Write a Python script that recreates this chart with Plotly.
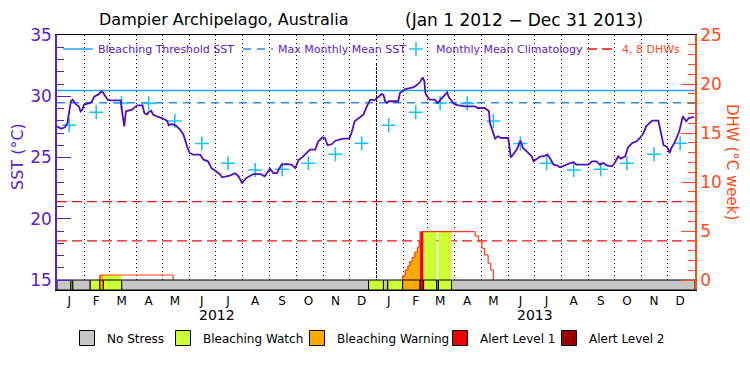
import plotly.graph_objects as go
from datetime import datetime

# ---------------- data ----------------
title_left = "Dampier Archipelago, Australia"
title_right = "(Jan 1 2012 \u2212 Dec 31 2013)"

sst_dates = [
    "2012-01-01", "2012-01-06", "2012-01-10", "2012-01-13", "2012-01-15", "2012-01-17", "2012-01-19",
    "2012-01-21", "2012-01-23", "2012-01-26", "2012-01-28", "2012-01-30", "2012-02-01", "2012-02-04",
    "2012-02-08", "2012-02-10", "2012-02-13", "2012-02-17", "2012-02-19", "2012-02-21", "2012-02-23",
    "2012-02-26", "2012-02-28", "2012-03-02", "2012-03-14", "2012-03-15", "2012-03-17", "2012-03-18",
    "2012-03-20", "2012-03-23", "2012-03-27", "2012-03-30", "2012-04-02", "2012-04-08", "2012-04-10",
    "2012-04-13", "2012-04-15", "2012-04-18", "2012-04-20", "2012-04-26", "2012-04-30", "2012-05-06",
    "2012-05-08", "2012-05-11", "2012-05-16", "2012-05-21", "2012-05-25", "2012-05-29", "2012-06-01",
    "2012-06-05", "2012-06-13", "2012-06-17", "2012-06-22", "2012-06-26", "2012-07-02", "2012-07-06",
    "2012-07-08", "2012-07-17", "2012-07-23", "2012-07-27", "2012-07-31", "2012-08-05", "2012-08-13",
    "2012-08-21", "2012-08-26", "2012-09-01", "2012-09-05", "2012-09-09", "2012-09-14", "2012-09-20",
    "2012-09-26", "2012-09-30", "2012-10-04", "2012-10-08", "2012-10-13", "2012-10-17", "2012-10-23",
    "2012-10-26", "2012-10-31", "2012-11-03", "2012-11-06", "2012-11-11", "2012-11-15", "2012-11-19",
    "2012-11-24", "2012-12-01", "2012-12-04", "2012-12-07", "2012-12-12", "2012-12-17", "2012-12-21",
    "2012-12-25", "2012-12-30", "2013-01-03", "2013-01-07", "2013-01-09", "2013-01-11", "2013-01-13",
    "2013-01-15", "2013-01-26", "2013-01-28", "2013-02-03", "2013-02-07", "2013-02-12", "2013-02-16",
    "2013-02-20", "2013-02-23", "2013-02-25", "2013-02-26", "2013-02-28", "2013-03-03", "2013-03-09",
    "2013-03-12", "2013-03-15", "2013-03-19", "2013-03-23", "2013-03-25", "2013-03-28", "2013-03-31",
    "2013-04-05", "2013-04-13", "2013-04-24", "2013-04-27", "2013-05-05", "2013-05-08", "2013-05-10",
    "2013-05-11", "2013-05-14", "2013-05-17", "2013-05-20", "2013-05-24", "2013-06-01", "2013-06-02",
    "2013-06-04", "2013-06-07", "2013-06-11", "2013-06-15", "2013-06-18", "2013-06-24", "2013-06-28",
    "2013-06-30", "2013-07-04", "2013-07-08", "2013-07-11", "2013-07-16", "2013-07-19", "2013-07-23",
    "2013-07-27", "2013-07-30", "2013-08-05", "2013-08-11", "2013-08-15", "2013-08-18", "2013-09-01",
    "2013-09-05", "2013-09-10", "2013-09-14", "2013-09-18", "2013-09-22", "2013-09-28", "2013-10-01",
    "2013-10-05", "2013-10-08", "2013-10-13", "2013-10-16", "2013-10-21", "2013-10-26", "2013-10-30",
    "2013-11-03", "2013-11-06", "2013-11-11", "2013-11-13", "2013-11-20", "2013-11-23", "2013-11-26",
    "2013-11-30", "2013-12-03", "2013-12-05", "2013-12-09", "2013-12-14", "2013-12-18", "2013-12-22",
    "2013-12-25", "2013-12-28", "2013-12-31",
]
sst_values = [
    27.54, 27.35, 27.46, 27.82, 28.77, 29.59, 29.72,
    29.45, 29.31, 29.18, 28.77, 28.90, 29.31, 29.37,
    29.45, 29.59, 29.99, 30.13, 30.27, 30.40, 30.27,
    29.99, 29.72, 29.67, 29.67, 29.04, 27.95, 27.54,
    28.77, 28.85, 28.90, 29.09, 29.26, 29.26, 28.63,
    28.50, 28.69, 28.82, 28.50, 28.31, 28.22, 28.00,
    27.63, 27.73, 27.63, 27.27, 26.86, 25.91, 25.37,
    25.23, 25.23, 24.82, 24.69, 24.14, 23.87, 23.62,
    23.38, 23.52, 23.71, 23.46, 22.92, 23.33, 23.65,
    23.65, 23.46, 24.09, 23.73, 23.73, 24.41, 24.47,
    24.41, 24.14, 24.82, 25.01, 25.37, 25.64, 25.64,
    26.27, 26.65, 26.59, 26.00, 26.10, 26.37, 26.46,
    26.54, 26.54, 27.14, 27.95, 28.22, 28.50, 29.18,
    29.72, 29.68, 29.91, 30.18, 30.13, 29.59, 29.45,
    29.59, 29.59, 30.27, 30.59, 30.67, 30.73, 30.89,
    31.16, 31.54, 31.22, 30.27, 29.99, 29.72, 29.72,
    29.45, 29.67, 29.99, 30.32, 29.91, 29.64, 29.37,
    29.26, 29.18, 29.18, 29.04, 29.04, 28.90, 28.77,
    27.82, 27.14, 26.54, 26.73, 26.59, 26.59, 25.91,
    25.01, 25.28, 25.69, 26.37, 25.78, 25.37, 25.10,
    24.69, 24.91, 25.10, 25.10, 25.23, 24.91, 24.42,
    24.36, 24.20, 24.36, 24.55, 24.61, 24.42, 24.42,
    24.69, 24.69, 24.42, 24.55, 24.36, 24.28, 24.55,
    25.10, 24.91, 25.10, 25.78, 26.18, 26.32, 26.59,
    27.00, 27.54, 27.90, 28.01, 28.01, 27.00, 26.00,
    25.86, 25.37, 25.78, 26.27, 27.14, 28.36, 27.95,
    28.22, 28.28, 28.28,
]

# monthly mean climatology, Jan..Dec
clim_values = [27.63, 28.69, 29.45, 29.42, 27.98, 26.14, 24.53, 23.98, 24.04, 24.53, 25.26, 26.16]
mmm_sst = 29.46
threshold_sst = 30.47
dhw_levels = [4, 8]

dhw_dates = ["2012-01-01", "2012-02-19", "2012-05-13", "2013-01-31", "2013-02-03", "2013-02-06",
             "2013-02-08", "2013-02-11", "2013-02-14", "2013-02-17", "2013-02-19", "2013-02-20",
             "2013-04-24", "2013-04-28", "2013-05-02", "2013-05-05", "2013-05-09", "2013-05-12",
             "2013-05-15", "2014-01-01"]
dhw_values = [0, 0.51, 0, 0.41, 1.02, 1.46,
              1.87, 2.31, 2.86, 3.33, 3.84, 4.93,
              4.49, 3.91, 3.23, 2.55, 1.70, 1.02,
              0, 0]

stress_start = ["2012-01-01", "2012-01-17", "2012-01-19", "2012-02-08", "2012-02-19", "2012-02-23",
                "2012-03-15", "2012-12-23", "2013-01-09", "2013-01-14", "2013-01-31", "2013-02-20",
                "2013-02-24", "2013-03-11", "2013-03-13", "2013-03-28"]
stress_end = ["2012-01-17", "2012-01-19", "2012-02-08", "2012-02-19", "2012-02-23", "2012-03-15",
              "2012-12-23", "2013-01-09", "2013-01-14", "2013-01-31", "2013-02-20", "2013-02-24",
              "2013-03-11", "2013-03-13", "2013-03-28", "2014-01-01"]
stress_level = [0, 1, 0, 1, 2, 1,
                0, 1, 0, 1, 2, 3,
                1, 0, 1, 0]

level_names = ["No Stress", "Bleaching Watch", "Bleaching Warning", "Alert Level 1", "Alert Level 2"]
level_colors = ["#c6c6c6", "#ccff33", "#ffaa00", "#ee0000", "#990000"]

month_letters = ["J", "F", "M", "A", "M", "J", "J", "A", "S", "O", "N", "D"]
years = [2012, 2013]

# ---------------- styling ----------------
FONT = "DejaVu Sans"
PURPLE = "#5a22c8"
SST_LINE = "#5010c0"
ORANGE = "#ff4a1a"
DHW_LINE = "#ff3c14"
RED_DASH = "#f01010"
THR_BLUE = "#1aa6ff"
MMM_BLUE = "#2a8ee8"
CLIM_CYAN = "#19c3f5"

Y_RANGE = [14.1837, 35]
Y2_RANGE = [-1.0204, 25]

# plot area in pixels: x 57..695, y 35..290
L, R, T, B = 57, 695, 35, 290


def px_x(p):
    return (p - L) / float(R - L)


def px_y(p):
    return (B - p) / float(B - T)


def d(s):
    return datetime.strptime(s, "%Y-%m-%d")


x0 = datetime(years[0], 1, 1)
x1 = datetime(years[-1] + 1, 1, 1)

fig = go.Figure()

# climatology positions: mid month
clim_x, clim_y = [], []
for yr in years:
    for m in range(12):
        clim_x.append(datetime(yr, m + 1, 15))
        clim_y.append(clim_values[m])

lx, ly = [], []
for lv in dhw_levels:
    lx += [x0, x1, None]
    ly += [lv, lv, None]

fig.add_trace(go.Scatter(x=[x0, x1], y=[threshold_sst] * 2, mode="lines",
                         line=dict(color=THR_BLUE, width=1.5),
                         name="Bleaching Threshold SST", yaxis="y", legend="legend"))
fig.add_trace(go.Scatter(x=[x0, x1], y=[mmm_sst] * 2, mode="lines",
                         line=dict(color=MMM_BLUE, width=1.5, dash="8px,6px"),
                         name="Max Monthly Mean SST", yaxis="y", legend="legend2"))
fig.add_trace(go.Scatter(x=clim_x, y=clim_y, mode="markers",
                         marker=dict(symbol="cross-thin", size=10,
                                     line=dict(color=CLIM_CYAN, width=1.6)),
                         name="Monthly Mean Climatology", yaxis="y", legend="legend3"))
fig.add_trace(go.Scatter(x=[d(s) for s in sst_dates], y=sst_values, mode="lines",
                         line=dict(color=SST_LINE, width=1.8), showlegend=False, yaxis="y"))

fig.add_trace(go.Scatter(x=lx, y=ly, mode="lines",
                         line=dict(color=RED_DASH, width=1.3, dash="10px,5px"),
                         name='<span style="color:%s">4, 8 DHWs</span>' % ORANGE,
                         yaxis="y2", legend="legend4"))

# DHW fill under curve, coloured by stress level
dt = [d(s) for s in dhw_dates]


def dhw_at(t):
    v = dhw_values[0]
    for ti, vi in zip(dt, dhw_values):
        if ti <= t:
            v = vi
    return v


for s, e, lvl in zip(stress_start, stress_end, stress_level):
    if lvl < 1:
        continue
    ts, te = d(s), d(e)
    v = dhw_at(ts)
    pxs, pys = [ts, ts], [0, v]
    for ti, vi in zip(dt, dhw_values):
        if ts < ti < te:
            pxs += [ti, ti]
            pys += [v, vi]
            v = vi
    pxs += [te, te, ts]
    pys += [v, 0, 0]
    if max(pys) <= 0:
        continue
    fig.add_trace(go.Scatter(x=pxs, y=pys, mode="lines", fill="toself",
                             fillcolor=level_colors[lvl], line=dict(width=0),
                             showlegend=False, hoverinfo="skip", yaxis="y2"))

# DHW step outline (zero baseline omitted)
ox, oy = [], []
for i in range(len(dt) - 1):
    if dhw_values[i] > 0:
        ox += [dt[i], dt[i + 1], None]
        oy += [dhw_values[i], dhw_values[i], None]
    if dhw_values[i] != dhw_values[i + 1]:
        ox += [dt[i + 1], dt[i + 1], None]
        oy += [dhw_values[i], dhw_values[i + 1], None]
fig.add_trace(go.Scatter(x=ox, y=oy, mode="lines", line=dict(color=DHW_LINE, width=1.2),
                         showlegend=False, yaxis="y2"))

# stress strip (bars) + legend swatches
legend_names_bottom = ["legend5", "legend6", "legend7", "legend8", "legend9"]
for lvl, (nm, col) in enumerate(zip(level_names, level_colors)):
    xs, ws = [], []
    for s, e, l in zip(stress_start, stress_end, stress_level):
        if l == lvl:
            xs.append(d(s))
            ws.append((d(e) - d(s)).total_seconds() * 1000)
    if xs:
        fig.add_trace(go.Bar(x=xs, y=[-Y2_RANGE[0]] * len(xs), base=Y2_RANGE[0], width=ws, offset=0,
                             marker=dict(color=col, line=dict(color="black", width=1)),
                             showlegend=False, yaxis="y3"))
    fig.add_trace(go.Scatter(x=[None], y=[None], mode="markers", yaxis="y3",
                             marker=dict(symbol="square", size=15, color=col,
                                         line=dict(color="black", width=1)),
                             name=nm, legend=legend_names_bottom[lvl]))

# month labels
tickvals, ticktext = [], []
for yr in years:
    for m in range(12):
        tickvals.append(datetime(yr, m + 1, 15))
        ticktext.append(month_letters[m])

annotations = [
    dict(text=title_left, x=px_x(224), y=px_y(20), xref="paper", yref="paper",
         xanchor="center", yanchor="middle", showarrow=False,
         font=dict(family=FONT, size=16, color="black")),
    dict(text=title_right, x=px_x(524), y=px_y(20), xref="paper", yref="paper",
         xanchor="center", yanchor="middle", showarrow=False,
         font=dict(family=FONT, size=17, color="black")),
    dict(text="SST (\u00b0C)", x=px_x(17), y=px_y(157), xref="paper", yref="paper",
         textangle=-90, showarrow=False, xanchor="center", yanchor="middle",
         font=dict(family=FONT, size=16, color=PURPLE)),
    dict(text="DHW (\u00b0C week)", x=px_x(732), y=px_y(162), xref="paper", yref="paper",
         textangle=90, showarrow=False, xanchor="center", yanchor="middle",
         font=dict(family=FONT, size=15, color=ORANGE)),
]
for yr in years:
    annotations.append(dict(text=str(yr), x=datetime(yr, 7, 2), y=px_y(315), xref="x", yref="paper",
                            xanchor="center", yanchor="middle", showarrow=False,
                            font=dict(family=FONT, size=14, color="black")))

# white band behind the top legend row; denser dotted line at year boundaries
shapes = [dict(type="rect", xref="paper", yref="paper", x0=px_x(64), x1=px_x(682),
               y0=px_y(63), y1=1, fillcolor="white", line=dict(width=0), layer="between")]
for yr in years[1:]:
    shapes.append(dict(type="line", xref="x", yref="paper", x0=datetime(yr, 1, 1), x1=datetime(yr, 1, 1),
                       y0=0, y1=px_y(63), line=dict(color="black", width=1, dash="2px,2px"),
                       layer="between"))

top_text_x = [98, 278, 436, 622]
bottom_text_x = [107, 203, 337, 480, 589]
legends = {}
for i, tx in enumerate(top_text_x):
    key = "legend" if i == 0 else "legend%d" % (i + 1)
    legends[key] = dict(orientation="h", x=px_x(tx - 40), y=px_y(49), xanchor="left", yanchor="middle",
                        bgcolor="rgba(0,0,0,0)", font=dict(family=FONT, size=11, color=PURPLE),
                        itemwidth=30)
for i, tx in enumerate(bottom_text_x):
    legends["legend%d" % (i + 5)] = dict(orientation="h", x=px_x(tx - 40), y=px_y(338), xanchor="left",
                                         yanchor="middle", bgcolor="rgba(0,0,0,0)",
                                         font=dict(family=FONT, size=12, color="black"), itemwidth=30)

fig.update_layout(
    width=750, height=375,
    margin=dict(l=L, r=750 - R, t=T, b=375 - B, autoexpand=False),
    paper_bgcolor="white", plot_bgcolor="white",
    font=dict(family=FONT, color="black"),
    barmode="overlay",
    annotations=annotations,
    shapes=shapes,
    xaxis=dict(type="date", range=[x0, x1], tickmode="array", tickvals=tickvals, ticktext=ticktext,
               ticks="", showgrid=False, showline=True, linecolor="black", linewidth=1, mirror=True,
               zeroline=False, automargin=False, tickfont=dict(size=12, color="black"),
               minor=dict(dtick="M1", tick0="2012-01-01", showgrid=True, gridcolor="black",
                          griddash="1px,3px", gridwidth=1, ticks="")),
    yaxis=dict(range=Y_RANGE, tick0=15, dtick=5, ticks="inside", ticklen=14, tickwidth=1,
               tickcolor=PURPLE, showline=True, linecolor=PURPLE, linewidth=1.5, showgrid=False,
               zeroline=False, automargin=False, tickfont=dict(size=17, color=PURPLE),
               minor=dict(dtick=1, tick0=15, ticks="inside", ticklen=7, tickcolor=PURPLE, showgrid=False)),
    yaxis2=dict(range=Y2_RANGE, overlaying="y", side="right", tick0=0, dtick=5, ticks="inside",
                ticklen=14, tickwidth=1, tickcolor=ORANGE, showline=True, linecolor=ORANGE,
                linewidth=1.5, showgrid=False, zeroline=False, automargin=False,
                tickfont=dict(size=17, color=ORANGE),
                minor=dict(dtick=1, tick0=0, ticks="inside", ticklen=7, tickcolor=ORANGE, showgrid=False)),
    yaxis3=dict(range=Y2_RANGE, overlaying="y", visible=False),
    showlegend=True,
    **legends,
)

fig.write_html("out.html", config={"displayModeBar": False},
               post_script="document.body.style.margin='0px';")
